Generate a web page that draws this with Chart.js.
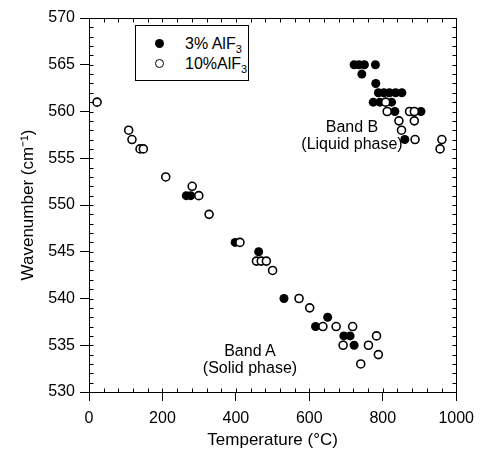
<!DOCTYPE html>
<html>
<head>
<meta charset="utf-8">
<script src="https://cdn.jsdelivr.net/npm/chart.js@4.4.1/dist/chart.umd.min.js"></script>
<style>
  body { margin: 0; background: #fff; }
  #wrap { position: relative; width: 482px; height: 454px; font-family: "Liberation Sans", Arial, sans-serif; color: #000; }
  #wrap canvas { position: absolute; left: 0; top: 0; }
  .note { position: absolute; font-size: 16px; line-height: 17px; text-align: center; white-space: nowrap; transform: translateX(-50%); }
  #legend { position: absolute; left: 135px; top: 25px; width: 112px; height: 54px; border: 1px solid #000; background: #fff; font-size: 16px; }
  #legend .row { position: absolute; left: 0; height: 18px; line-height: 18px; white-space: nowrap; }
  #legend .dot { position: absolute; left: 19px; top: 4px; width: 9px; height: 9px; border-radius: 50%; box-sizing: border-box; }
  #legend .txt { position: absolute; left: 49px; top: 0; }
  sub { font-size: 11px; vertical-align: -4px; line-height: 0; }
</style>
</head>
<body>
<div id="wrap">
  <canvas id="chart" width="482" height="454"></canvas>
  <div id="legend">
    <div class="row" style="top:9px"><span class="dot" style="background:#000"></span><span class="txt">3% AlF<sub>3</sub></span></div>
    <div class="row" style="top:29px"><span class="dot" style="border:1.6px solid #000;background:#fff"></span><span class="txt">10%AlF<sub>3</sub></span></div>
  </div>
  <div class="note" style="left:352px;top:118px">Band B<br>(Liquid phase)</div>
  <div class="note" style="left:250px;top:342px">Band A<br>(Solid phase)</div>
</div>
<script>
// 3% AlF3 (filled)
const filledTemp = [265, 277, 398, 462, 531, 650, 617, 694, 711, 722,
  722, 735, 750, 780, 743, 781, 788, 803, 818, 835, 852, 774, 792, 824, 833, 904, 860];
const filledWave = [551, 551, 546, 545, 540, 538, 537, 536, 536, 535,
  565, 565, 565, 565, 564, 563, 562, 562, 562, 562, 562, 561, 561, 561, 560, 560, 557];

// 10% AlF3 (open)
const openTemp = [22, 108, 117, 139, 148, 209, 281, 299, 327, 411, 456, 469, 483, 500,
  572, 601, 637, 673, 718, 783, 692, 761, 788, 740,
  808, 812, 873, 886, 844, 886, 851, 888, 961, 956];
const openWave = [561, 558, 557, 556, 556, 553, 552, 551, 549, 546, 544, 544, 544, 543,
  540, 539, 537, 537, 537, 536, 535, 535, 534, 533,
  561, 560, 560, 560, 559, 559, 558, 557, 557, 556];

const xTicks = [0, 200, 400, 600, 800, 1000];
const yTicks = [530, 535, 540, 545, 550, 555, 560, 565, 570];

const toPoints = (xs, ys) => xs.map((x, i) => ({ x: x, y: ys[i] }));

const frameTicks = {
  id: "frameTicks",
  afterDraw(chart) {
    const { ctx, chartArea: a, scales } = chart;
    const l = Math.round(a.left) + 0.5;
    const r = Math.round(a.right) + 0.5;
    const t = Math.round(a.top) + 0.5;
    const b = Math.round(a.bottom) + 0.5;
    ctx.save();
    ctx.strokeStyle = "#000";
    ctx.lineWidth = 1;
    ctx.strokeRect(l, t, r - l, b - t);
    ctx.beginPath();
    for (let v = 530; v <= 570; v += 1) {
      const py = Math.round(scales.y.getPixelForValue(v)) + 0.5;
      ctx.moveTo(l, py);
      ctx.lineTo(l + 4, py);
      ctx.moveTo(r, py);
      ctx.lineTo(r - 4, py);
    }
    for (let v = 0; v <= 1000; v += 40) {
      const px = Math.round(scales.x.getPixelForValue(v)) + 0.5;
      ctx.moveTo(px, b);
      ctx.lineTo(px, b - 4);
      ctx.moveTo(px, t);
      ctx.lineTo(px, t + 4);
    }
    ctx.stroke();
    ctx.restore();
  },
};

const tickFont = { family: "Liberation Sans", size: 16 };
const titleFont = { family: "Liberation Sans", size: 17 };

new Chart(document.getElementById("chart"), {
  type: "scatter",
  plugins: [frameTicks],
  data: {
    datasets: [
      {
        label: "3% AlF3",
        data: toPoints(filledTemp, filledWave),
        order: 1,
        pointRadius: 4.5,
        borderWidth: 0,
        backgroundColor: "#000",
        borderColor: "#000",
      },
      {
        label: "10%AlF3",
        data: toPoints(openTemp, openWave),
        order: 0,
        pointRadius: 4,
        borderWidth: 1.6,
        backgroundColor: "#fff",
        borderColor: "#000",
      },
    ],
  },
  options: {
    responsive: false,
    animation: false,
    events: [],
    layout: { padding: { top: 18, right: 21, left: 0, bottom: 0 } },
    plugins: {
      legend: { display: false },
      tooltip: { enabled: false },
    },
    scales: {
      x: {
        type: "linear",
        min: 0,
        max: 1000,
        afterBuildTicks: (s) => { s.ticks = xTicks.map((v) => ({ value: v })); },
        afterFit: (s) => { s.height = 62; },
        border: { display: true, color: "#000", width: 1 },
        grid: { display: true, drawOnChartArea: false, drawTicks: true, tickLength: 9, color: "#000" },
        ticks: { color: "#000", font: tickFont, padding: 8, maxRotation: 0, callback: (v) => String(v) },
        title: { display: true, text: "Temperature (°C)", color: "#000", font: titleFont, padding: { top: 0, bottom: 3 } },
      },
      y: {
        type: "linear",
        min: 530,
        max: 570,
        afterBuildTicks: (s) => { s.ticks = yTicks.map((v) => ({ value: v })); },
        afterFit: (s) => { s.width = 89; },
        border: { display: true, color: "#000", width: 1 },
        grid: { display: true, drawOnChartArea: false, drawTicks: true, tickLength: 9, color: "#000" },
        ticks: { color: "#000", font: tickFont, padding: 5, callback: (v) => String(v) },
        title: { display: true, text: "Wavenumber (cm⁻¹)", color: "#000", font: titleFont, padding: { top: 18, bottom: 0 } },
      },
    },
  },
});
</script>
</body>
</html>
